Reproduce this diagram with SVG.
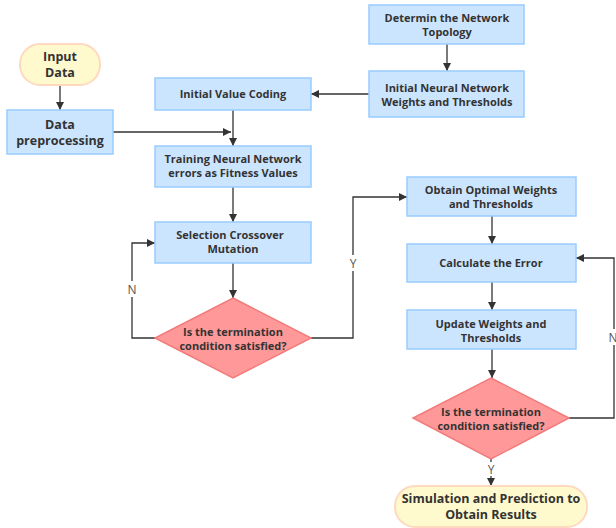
<svg xmlns="http://www.w3.org/2000/svg" width="616" height="528" viewBox="0 0 616 528">
<style>
.box{fill:#cce5ff;stroke:#99ccff;stroke-width:1.5}
.dia{fill:#ff9999;stroke:#f27a7a;stroke-width:1.5}
.pill{fill:#fffacd;stroke:#ffd9bf;stroke-width:2}
.t{font-family:"Open Sans","Noto Sans",sans-serif;font-weight:bold;font-size:11px;fill:#333;text-anchor:middle}
.tl{font-size:12.5px}
.ln{fill:none;stroke:#333;stroke-width:1.3}
.lab{font-family:"Open Sans","Noto Sans",sans-serif;font-size:12px;fill:#555;text-anchor:middle}
</style>
<defs>
<marker id="ah" viewBox="0 0 10 10" refX="10" refY="5" markerWidth="8" markerHeight="8" markerUnits="userSpaceOnUse" orient="auto">
<path d="M0,0 L10,5 L0,10 z" fill="#333"/>
</marker>
</defs>
<rect width="616" height="528" fill="#fff"/>
<g id="connectors">
<path class="ln" d="M60,85 V110" marker-end="url(#ah)"/>
<path class="ln" d="M113,132 H231" marker-end="url(#ah)"/>
<path class="ln" d="M233,110 V146" marker-end="url(#ah)"/>
<path class="ln" d="M447,44 V71" marker-end="url(#ah)"/>
<path class="ln" d="M369,94 H311" marker-end="url(#ah)"/>
<path class="ln" d="M233,187 V222" marker-end="url(#ah)"/>
<path class="ln" d="M233,263 V298" marker-end="url(#ah)"/>
<path class="ln" d="M155,338 H132 V243 H155" marker-end="url(#ah)"/>
<path class="ln" d="M311,338 H353 V197 H407" marker-end="url(#ah)"/>
<path class="ln" d="M492,216 V244" marker-end="url(#ah)"/>
<path class="ln" d="M492,282 V310" marker-end="url(#ah)"/>
<path class="ln" d="M492,349 V378" marker-end="url(#ah)"/>
<path class="ln" d="M569,418 H614 V258 H576" marker-end="url(#ah)"/>
<path class="ln" d="M491,459 V486" marker-end="url(#ah)"/>
<rect x="126" y="281" width="12" height="16" fill="#fff"/>
<text class="lab" x="132" y="294">N</text>
<rect x="347" y="255" width="12" height="16" fill="#fff"/>
<text class="lab" x="353" y="268">Y</text>
<rect x="607" y="329" width="12" height="16" fill="#fff"/>
<text class="lab" x="613" y="342">N</text>
<rect x="486" y="462" width="10" height="14" fill="#fff"/>
<text class="lab" x="491" y="474">Y</text>
</g>
<g id="input-data">
<rect class="pill" x="20" y="44" width="80" height="41" rx="20"/>
<text class="t tl" x="60" y="61">Input</text>
<text class="t tl" x="60" y="77">Data</text>
</g>
<g id="data-preprocessing">
<rect class="box" x="7" y="110" width="106" height="44"/>
<text class="t tl" x="60" y="129">Data</text>
<text class="t tl" x="60" y="145">preprocessing</text>
</g>
<g id="determin-topology">
<rect class="box" x="369" y="5" width="155" height="39"/>
<text class="t" x="447" y="22">Determin the Network</text>
<text class="t" x="447" y="36">Topology</text>
</g>
<g id="initial-nn">
<rect class="box" x="369" y="71" width="155" height="46"/>
<text class="t" x="447" y="92">Initial Neural Network</text>
<text class="t" x="447" y="106">Weights and Thresholds</text>
</g>
<g id="initial-value-coding">
<rect class="box" x="155" y="78" width="156" height="32"/>
<text class="t" x="233" y="98">Initial Value Coding</text>
</g>
<g id="training">
<rect class="box" x="155" y="146" width="156" height="41"/>
<text class="t" x="233" y="163">Training Neural Network</text>
<text class="t" x="233" y="177">errors as Fitness Values</text>
</g>
<g id="selection">
<rect class="box" x="155" y="222" width="156" height="41"/>
<text class="t" x="230" y="239">Selection Crossover</text>
<text class="t" x="233" y="253">Mutation</text>
</g>
<g id="decision-1">
<polygon class="dia" points="233,298 311,338 233,378 155,338"/>
<text class="t" x="233" y="336">Is the termination</text>
<text class="t" x="233" y="350">condition satisfied?</text>
</g>
<g id="obtain-optimal">
<rect class="box" x="407" y="177" width="169" height="39"/>
<text class="t" x="491" y="194">Obtain Optimal Weights</text>
<text class="t" x="491" y="208">and Thresholds</text>
</g>
<g id="calculate-error">
<rect class="box" x="407" y="244" width="169" height="38"/>
<text class="t" x="491" y="267">Calculate the Error</text>
</g>
<g id="update-weights">
<rect class="box" x="407" y="310" width="169" height="39"/>
<text class="t" x="491" y="328">Update Weights and</text>
<text class="t" x="491" y="342">Thresholds</text>
</g>
<g id="decision-2">
<polygon class="dia" points="491,378 569,418 491,459 413,418"/>
<text class="t" x="491" y="416">Is the termination</text>
<text class="t" x="491" y="430">condition satisfied?</text>
</g>
<g id="simulation">
<rect class="pill" x="395" y="486" width="192" height="41" rx="20"/>
<text class="t tl" x="491" y="503">Simulation and Prediction to</text>
<text class="t tl" x="491" y="519">Obtain Results</text>
</g>
</svg>
